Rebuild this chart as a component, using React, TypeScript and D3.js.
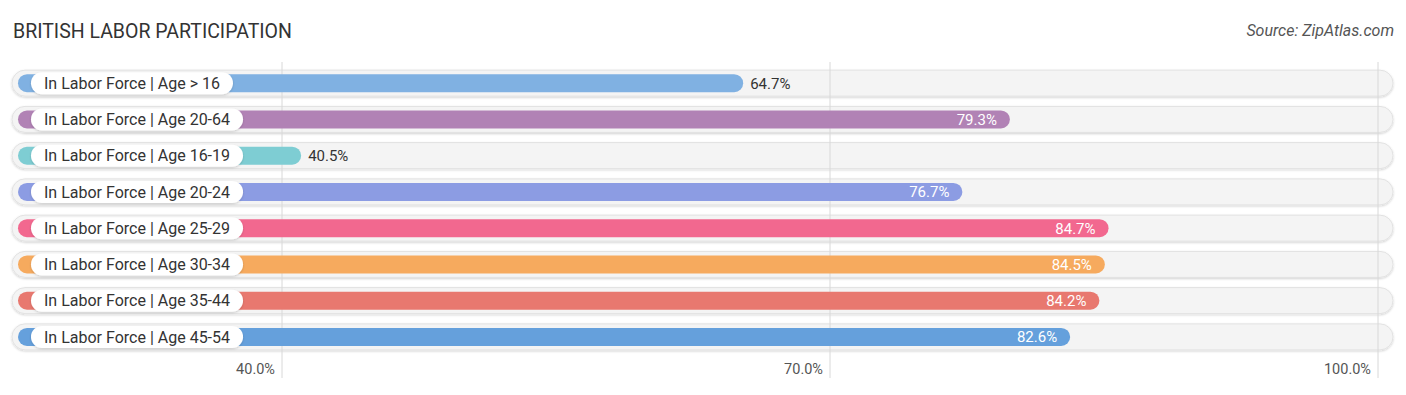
import { useRef, useEffect } from "react";
import * as d3 from "d3";

const categories = [
  "In Labor Force | Age > 16",
  "In Labor Force | Age 20-64",
  "In Labor Force | Age 16-19",
  "In Labor Force | Age 20-24",
  "In Labor Force | Age 25-29",
  "In Labor Force | Age 30-34",
  "In Labor Force | Age 35-44",
  "In Labor Force | Age 45-54",
];
const values = [64.7, 79.3, 40.5, 76.7, 84.7, 84.5, 84.2, 82.6];
const colors = [
  "#80b1e2",
  "#b182b5",
  "#7ecdd3",
  "#8c9ce3",
  "#f2688f",
  "#f6aa5e",
  "#e8786f",
  "#65a0dc",
];
const ticks = [40, 70, 100];

const W = 1406;
const H = 395;

const BarChart = () => {
  const svgRef = useRef<SVGSVGElement>(null);

  useEffect(() => {
    const svg = d3.select(svgRef.current);
    svg.selectAll("*").remove();

    const x = d3.scaleLinear().domain([40, 100]).range([282, 1378]);
    const y = d3.scaleBand<string>().domain(categories).range([65, 355]);
    const font = "Roboto, sans-serif";

    const defs = svg.append("defs");
    const f = defs
      .append("filter")
      .attr("id", "shadow")
      .attr("x", "-5%")
      .attr("y", "-50%")
      .attr("width", "110%")
      .attr("height", "200%");
    f.append("feDropShadow")
      .attr("dx", 0)
      .attr("dy", 1)
      .attr("stdDeviation", 1.2)
      .attr("flood-color", "#000")
      .attr("flood-opacity", 0.18);

    svg
      .append("text")
      .attr("x", 13)
      .attr("y", 38)
      .attr("font-family", font)
      .attr("font-size", 19.5)
      .attr("fill", "#333")
      .text("BRITISH LABOR PARTICIPATION");

    svg
      .append("text")
      .attr("x", 1394)
      .attr("y", 36)
      .attr("text-anchor", "end")
      .attr("font-family", font)
      .attr("font-size", 16)
      .attr("font-style", "italic")
      .attr("fill", "#555")
      .text("Source: ZipAtlas.com");

    // tracks
    const rows = svg
      .append("g")
      .selectAll("g")
      .data(categories)
      .join("g")
      .attr("transform", (d) => `translate(0, ${y(d)! + y.bandwidth() / 2})`);

    rows
      .append("rect")
      .attr("x", 12)
      .attr("y", -13)
      .attr("width", 1381)
      .attr("height", 26)
      .attr("rx", 13)
      .attr("fill", "#f4f4f4")
      .attr("stroke", "#e2e2e2")
      .attr("stroke-width", 1)
      .attr("filter", "url(#shadow)");

    // gridlines
    svg
      .append("g")
      .selectAll("line")
      .data(ticks)
      .join("line")
      .attr("x1", (d) => x(d))
      .attr("x2", (d) => x(d))
      .attr("y1", 62)
      .attr("y2", 378)
      .attr("stroke", "#d8d8d8")
      .attr("stroke-width", 1);

    const bars = svg
      .append("g")
      .selectAll("g")
      .data(categories)
      .join("g")
      .attr("transform", (d) => `translate(0, ${y(d)! + y.bandwidth() / 2})`);

    bars
      .append("rect")
      .attr("x", 18)
      .attr("y", -9)
      .attr("height", 18)
      .attr("rx", 9)
      .attr("width", (_, i) => x(values[i]) + 10 - 18)
      .attr("fill", (_, i) => colors[i]);

    const pills = bars.append("g");
    const pillRect = pills
      .append("rect")
      .attr("x", 31)
      .attr("y", -11)
      .attr("height", 22)
      .attr("rx", 11)
      .attr("fill", "#fff")
      .attr("filter", "url(#shadow)");
    const pillText = pills
      .append("text")
      .attr("x", 44)
      .attr("y", 0)
      .attr("dy", "0.36em")
      .attr("font-family", font)
      .attr("font-size", 16)
      .attr("fill", "#333")
      .text((d) => d);
    pillText.each(function (_, i) {
      const w = (this as SVGTextElement).getComputedTextLength();
      d3.select(pillRect.nodes()[i]).attr("width", w + 26);
    });

    bars
      .append("text")
      .attr("y", 0)
      .attr("dy", "0.36em")
      .attr("font-family", font)
      .attr("font-size", 15)
      .attr("x", (_, i) =>
        values[i] > 70 ? x(values[i]) - 3 : x(values[i]) + 17
      )
      .attr("text-anchor", (_, i) => (values[i] > 70 ? "end" : "start"))
      .attr("fill", (_, i) => (values[i] > 70 ? "#fff" : "#333"))
      .text((_, i) => `${values[i].toFixed(1)}%`);

    svg
      .append("g")
      .selectAll("text")
      .data(ticks)
      .join("text")
      .attr("x", (d) => x(d) - 7)
      .attr("y", 374)
      .attr("text-anchor", "end")
      .attr("font-family", font)
      .attr("font-size", 14.5)
      .attr("fill", "#555")
      .text((d) => `${d.toFixed(1)}%`);
  }, []);

  return (
    <svg
      ref={svgRef}
      width={W}
      height={H}
      style={{ position: "absolute", left: 0, top: 0, background: "#fff" }}
    />
  );
};

export default function App() {
  return <BarChart />;
}
